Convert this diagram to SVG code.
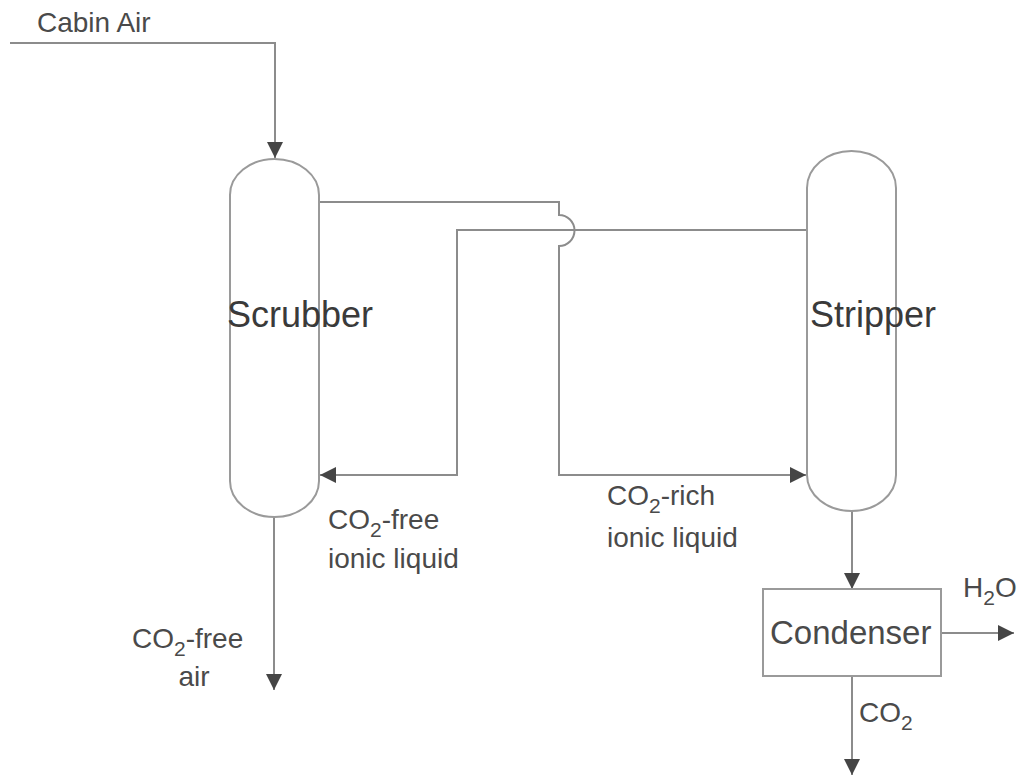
<svg xmlns="http://www.w3.org/2000/svg" width="1018" height="777" viewBox="0 0 1018 777">
<defs>
<style>
.ln{fill:none;stroke:#8c8c8c;stroke-width:2}
.shp{fill:#fff;stroke:#9a9a9a;stroke-width:2}
.t{font-family:"Liberation Sans",Arial,sans-serif;fill:#4a4a4a}
.lbl{font-size:28px}
.big{font-size:36px;fill:#3a3a3a}
.sub{font-size:21px}
</style>
<marker id="arr" viewBox="0 0 16 16" refX="16" refY="8" markerWidth="16" markerHeight="16" markerUnits="userSpaceOnUse" orient="auto">
<path d="M0,0 L16,8 L0,16 Z" fill="#454545"/>
</marker>
</defs>
<rect width="1018" height="777" fill="#fff"/>

<g id="connectors">
<path class="ln" d="M10,43 H275 V158" marker-end="url(#arr)"/>
<path class="ln" d="M319,202 H559 V215 A15.5,15.5 0 0 1 559,246 V475 H806" marker-end="url(#arr)"/>
<path class="ln" d="M807,230 H457 V475 H320" marker-end="url(#arr)"/>
<path class="ln" d="M274,517 V690" marker-end="url(#arr)"/>
<path class="ln" d="M852,511 V589" marker-end="url(#arr)"/>
<path class="ln" d="M941,633 H1014" marker-end="url(#arr)"/>
<path class="ln" d="M852,676 V775" marker-end="url(#arr)"/>
</g>

<g id="scrubber">
<path class="shp" d="M230,195 A44.5,36 0 0 1 319,195 V481 A44.5,36 0 0 1 230,481 Z"/>
<text class="t big" x="227" y="327">Scrubber</text>
</g>

<g id="stripper">
<path class="shp" d="M807,188 A44.5,37 0 0 1 896,188 V475 A44.5,36 0 0 1 807,475 Z"/>
<text class="t big" x="810" y="327">Stripper</text>
</g>

<g id="condenser">
<rect class="shp" x="763" y="589" width="178" height="87"/>
<text class="t" font-size="33" x="770" y="644">Condenser</text>
</g>

<g id="labels">
<text class="t lbl" x="37" y="32">Cabin Air</text>
<text class="t lbl" x="328" y="529">CO<tspan class="sub" dy="8">2</tspan><tspan dy="-8">-free</tspan></text>
<text class="t lbl" x="328" y="568">ionic liquid</text>
<text class="t lbl" x="607" y="505">CO<tspan class="sub" dy="8">2</tspan><tspan dy="-8">-rich</tspan></text>
<text class="t lbl" x="607" y="547">ionic liquid</text>
<text class="t lbl" x="132" y="648">CO<tspan class="sub" dy="8">2</tspan><tspan dy="-8">-free</tspan></text>
<text class="t lbl" x="194" y="686" text-anchor="middle">air</text>
<text class="t lbl" x="963" y="597">H<tspan class="sub" dy="8">2</tspan><tspan dy="-8">O</tspan></text>
<text class="t lbl" x="859" y="722">CO<tspan class="sub" dy="8">2</tspan></text>
</g>
</svg>
